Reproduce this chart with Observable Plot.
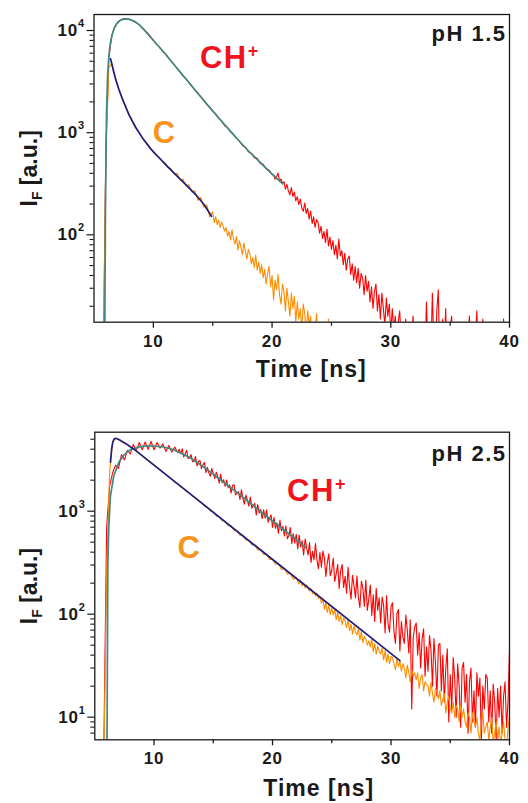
<!DOCTYPE html>
<html><head><meta charset="utf-8">
<script src="https://cdn.jsdelivr.net/npm/d3@7"></script>
<script src="https://cdn.jsdelivr.net/npm/@observablehq/plot@0.6"></script>
<style>
html,body{margin:0;padding:0;background:#fff;}
#chart svg{display:block;}
</style></head><body><div id="chart"></div>
<script>
// TCSPC channels: early part binned at 0.25 ns from 5.5 ns, tails at 0.125 ns
const headStart = 5.5, headStep = 0.25, tailStep = 0.125;

// ---------- pH 1.5 : measured decays ----------
const ch15Head = [2,3,700,5400,8900,10900,12100,12700,13000,12950,
 12800,12450,12000,11500,10900,10150,9500,8750,8050,7350,
 6900,6300,5950,5450,5000,4650,4250,3950,3580,3380,
 3100,2870,2600,2450,2260,2080,1880,1790,1610,1530,
 1380,1310,1170,1120,1020,960,880,830,750,720,
 650,630,570,560,500,490,440,430,390];
const ch15TailStart = 20.125;
const ch15Tail = [388,350,372,402,336,352,318,331,
 280,312,268,246,290,238,262,215,
 236,198,224,183,170,205,162,181,
 142,171,129,150,118,141,132,104,
 121,92,108,84,114,78,95,72,
 88,64,79,58,91,62,70,51,
 66,45,58,62,41,52,36,49,
 34,47,30,42,38,26,40,28,
 35,22,31,19,28,33,18,26,
 15,27,19,13,24,16,21,11,
 19,12,16,9,14,18,10,13,
 8,15,10,7,13,9,16,8,
 11,6,9,14,7,10,5,22,
 8,12,6,27,9,7,18,29,
 6,10,15,7,19,5,8,12,
 16,7,5,9,6,11,4,7,
 5,8,6,10,16,6,5,7,
 9,18,6,8,5,15,7,5,
 6,4,8,5,7,6,9,5,
 14,6,5,15,7,5,6,8];
const c15Head = [2,3,600,4300,4800,3600,2850,2350,2000,1700,
 1480,1300,1150,1020,920,830,760,700,640,600,
 575,525,505,455,440,395,400,345,350,300,
 310,262,270,218,232,186,196,150,168];
const c15TailStart = 15.125;
const c15Tail = [132,151,126,139,118,134,121,109,
 118,97,108,89,112,92,81,96,
 71,88,76,64,83,69,58,72,
 66,52,60,48,63,45,54,42,
 51,38,46,33,42,49,31,40,
 23,36,29,41,26,21,33,28,
 18,30,22,16,27,19,25,14,
 22,15,19,12,21,17,11,18,
 13,16,9,14,11,17,8,12,
 9,13,7,10,6,15,8,7,
 5,9,6,4,7,5,4,5];
// pH 1.5 : fitted curves
const fitCH15T = [5.90,5.97,6.05,6.15,6.25,6.39,6.55,6.7,6.9,7.1,7.4,7.7,8.0,8.4,8.8,9.3,9.8,10.3,10.8,11.3,11.8,12.3,12.8,13.3,13.8,14.3,14.8,15.4,16.0,16.6,17.3,18.0,18.7,19.4,20.1,20.9];
const fitCH15V = [8,200,1500,3800,5600,7700,9300,10500,11600,12300,12850,13000,12850,12300,11400,9900,8500,7300,6300,5350,4550,3870,3300,2800,2380,2030,1740,1440,1200,1000,810,665,555,460,385,315];
const fitC15T = [6.40,6.6,6.82,7.1,7.4,7.94,8.5,9.15,9.8,10.5,11.2,12.0,12.8,13.6,14.3,14.9];
const fitC15V = [5280,4200,3350,2650,2130,1500,1130,865,690,565,465,375,305,245,196,152];

// ---------- pH 2.5 : measured decays ----------
const ch25Head = [2,4,700,1750,2350,2800,2600,3550,3150,3900,
 3600,4450,3850,4650,3950,4700,4000,4750,3950,4650,
 4100,4500,3800,4350,3750,4200,3700];
const ch25TailStart = 12.125;
const ch25Tail = [4000,3610,4030,3360,3620,3900,3240,3320,
 3540,3020,3040,3400,2750,3040,3110,2590,
 2810,2980,2370,2670,2360,2180,2600,2300,
 2070,2390,2180,1870,2290,1890,2020,1740,
 2010,1690,1800,1500,1780,1810,1440,1490,
 1550,1300,1610,1330,1170,1430,1290,1120,
 1370,1070,1130,1190,920,1160,960,1040,
 845,1030,855,1030,780,865,920,695,
 870,680,770,610,815,645,715,575,
 720,540,580,695,485,605,490,595,
 430,585,450,515,375,535,445,375,
 495,318,407,337,486,335,277,397,
 286,410,352,233,318,385,236,267,
 351,208,247,304,178,264,304,182,
 233,160,285,185,140,238,190,144,
 234,144,116,209,179,119,214,109,
 140,192,97,154,85,178,109,144,
 82,147,121,66,151,81,67,119,
 129,68,52,101,111,44,85,60,
 52,98,70,42,88,12,60,75,
 82,40,66,30,58,72,25,48,
 28,62,45,20,58,34,16,50,
 52,18,40,14,30,46,9,26,
 12,38,24,10,33,20,8,30,
 34,14,26,7,22,30,9,18,
 8,27,16,24,6,20,12,26,
 24,9,18,7,21,14,6,19,
 10,20,7,16,22,8,14,45];
const c25Head = [2,3,250,2400,4600,5100,4950,4750,4560,4380,
 4200,4030,3850,3620,3470,3250,3110,2920,2810,2630,
 2530,2360,2280,2130,2050,1910,1850,1720,1660,1545,
 1500,1390,1350,1250,1215,1120,1095,1005,985,900,
 885,810,800,725,720,650,648,585,582,525,
 524,470,472,420,425,380,382,340,344,305,
 310,272,280,245,250,218,226];
const c25TailStart = 22.125;
const c25Tail = [210,196,214,188,201,180,192,176,
 168,178,158,163,150,160,142,148,
 128,140,112,131,104,122,99,116,
 98,112,88,104,85,97,79,92,
 86,74,88,69,80,64,77,67,
 63,72,56,68,53,61,57,50,
 55,48,58,43,52,41,49,44,
 41,47,36,44,34,41,33,39,
 38,33,29,37,31,35,28,33,
 30,24,32,27,22,29,25,27,
 23,27,19,24,26,18,22,21,
 20,16,22,17,14,19,18,15,
 18,13,15,17,11,14,16,12,
 11,14,10,13,12,9,13,10,
 12,9,8,11,10,7,11,9,
 8,10,7,6,9,11,7,8,
 9,6,8,10,5.5,7,9,6,
 8,5.5,7,9,6,5,8,10];
// pH 2.5 : fitted curves
const fitCH25T = [6.03,6.1,6.18,6.32,6.6,7.02,7.44,8.0,8.85,9.69,10.81,11.66,13.06,14.47,15.87,17.27,18.68,20.08,21.49,22.8];
const fitCH25V = [5,300,700,1400,2200,2970,3500,3960,4230,4320,4200,3950,3300,2550,1910,1440,1060,790,590,445];
const fitC25T = [6.32,6.42,6.52,6.62,6.72,6.85,7.1,7.6,8.3,13.9,19.24,30.75];
const fitC25V = [2990,4000,4700,5000,5100,5080,4900,4550,4000,1230,399,35.4];

// ---------- axes ----------
const xMajor = [10,20,30,40];
const xMinor = [15,25,35];
const yMajor15 = [100,1000,10000];
const yMinor15 = [20,30,40,50,60,70,80,90,200,300,400,500,600,700,800,900,2000,3000,4000,5000,6000,7000,8000,9000];
const yMajor25 = [10,100,1000];
const yMinor25 = [7,8,9,20,30,40,50,60,70,80,90,200,300,400,500,600,700,800,900,2000,3000,4000,5000];
const xLabel = "Time [ns]";
const yLabel = "I_F [a.u.]";

const seg = (vals, start, step) => vals.map((v, i) => ({t: start + i * step, v}));
const trace = (head, tail, tailStart) => seg(head, headStart, headStep).concat(seg(tail, tailStart, tailStep));
const pairs = (ts, vs) => ts.map((t, i) => ({t, v: vs[i]}));

const FONT = "Liberation Sans, Arial, Helvetica, sans-serif";
const INK = "#1a1a1a";
const NS = "http://www.w3.org/2000/svg";

function panel(o) {
  const svg = Plot.plot({
    width: 528, height: o.height,
    marginLeft: o.ml, marginRight: o.mr, marginTop: o.mt, marginBottom: o.mb,
    x: {domain: [5, 40]},
    y: {type: "log", domain: o.yDomain},
    style: {fontFamily: FONT, background: "white", color: INK},
    marks: [
      Plot.line(o.ch, {x: "t", y: "v", stroke: "#ff0000", strokeWidth: 1.1, clip: true}),
      Plot.line(o.c, {x: "t", y: "v", stroke: "#ff8c00", strokeWidth: 1.1, clip: true}),
      Plot.line(o.fitCH, {x: "t", y: "v", stroke: "#3c8a83", strokeWidth: 1.7, clip: true}),
      Plot.line(o.fitC, {x: "t", y: "v", stroke: "#1f1f80", strokeWidth: 1.7, clip: true}),
      Plot.frame({stroke: INK, strokeWidth: 1.3}),
      Plot.axisX({ticks: xMajor, tickSize: 6, fill: "none", label: null, stroke: INK, strokeWidth: 1.3}),
      Plot.axisX({ticks: xMinor, tickSize: 4, fill: "none", label: null, stroke: INK, strokeWidth: 1.3}),
      Plot.axisY({ticks: o.yMajor, tickSize: 7, fill: "none", label: null, stroke: INK, strokeWidth: 1.2}),
      Plot.axisY({ticks: o.yMinor, tickSize: 4, fill: "none", label: null, stroke: INK, strokeWidth: 1.1}),
      Plot.text(xMajor, {x: d => d, text: d => String(d), frameAnchor: "bottom", dy: o.tickDy, lineAnchor: "bottom", fontSize: 17, fontWeight: "bold", fill: INK}),
      Plot.text(o.yMajor, {y: d => d, text: () => "10", frameAnchor: "left", dx: -16, textAnchor: "end", lineAnchor: "middle", fontSize: 17, fontWeight: "bold", fill: INK}),
      Plot.text(o.yMajor, {y: d => d, text: d => String(Math.round(Math.log10(d))), frameAnchor: "left", dx: -16, dy: -7, textAnchor: "start", lineAnchor: "middle", fontSize: 11, fontWeight: "bold", fill: INK}),
      Plot.text([xLabel], {text: d => d, frameAnchor: "bottom", dx: o.xlDx, dy: o.xlDy, lineAnchor: "bottom", fontSize: 23, fontWeight: "bold", fill: INK}),
      Plot.text([yLabel], {text: d => d, frameAnchor: "left", rotate: -90, dx: o.ylDx, lineAnchor: "bottom", textAnchor: "middle", fontSize: 23, fontWeight: "bold", fill: INK}),
      Plot.text([o.ph], {text: d => d, frameAnchor: "top-right", dx: -3, dy: o.phDy, textAnchor: "end", lineAnchor: "bottom", fontSize: 22, fontWeight: "bold", fill: INK}),
      Plot.text(["CH+"], {text: d => d, x: o.chPos[0], y: o.chPos[1], textAnchor: "start", lineAnchor: "middle", fontSize: 31, fontWeight: "bold", fill: "#f0141e"}),
      Plot.text(["C"], {text: d => d, x: o.cPos[0], y: o.cPos[1], textAnchor: "start", lineAnchor: "middle", fontSize: 31, fontWeight: "bold", fill: "#f7941d"})
    ]
  });
  const tspan = (txt, attrs) => {
    const t = document.createElementNS(NS, "tspan");
    t.textContent = txt;
    for (const k in attrs) t.setAttribute(k, attrs[k]);
    return t;
  };
  svg.querySelectorAll("text").forEach(el => {
    const s = el.textContent;
    if (s === "CH+") {
      el.textContent = "";
      el.setAttribute("letter-spacing", "1.5");
      el.appendChild(tspan("CH", {}));
      el.appendChild(tspan("+", {"font-size": "18", dy: "-11"}));
    } else if (s === yLabel) {
      el.textContent = "";
      el.appendChild(tspan("I", {}));
      el.appendChild(tspan("F", {"font-size": "14", dy: "5"}));
      el.appendChild(tspan(" [a.u.]", {"font-size": "23", dy: "-5"}));
    } else if (s === o.ph) {
      el.setAttribute("letter-spacing", "1.5");
    } else if (s === xLabel) {
      el.setAttribute("letter-spacing", "1");
    } else if (/^\d0$/.test(s)) {
      el.setAttribute("letter-spacing", "0.8");
    }
  });
  return svg;
}

const root = document.getElementById("chart");
root.appendChild(panel({
  height: 395, ml: 93.5, mr: 19, mt: 14, mb: 73.3,
  yDomain: [13.96, 14340], yMajor: yMajor15, yMinor: yMinor15,
  ch: trace(ch15Head, ch15Tail, ch15TailStart), c: trace(c15Head, c15Tail, c15TailStart),
  fitCH: pairs(fitCH15T, fitCH15V), fitC: pairs(fitC15T, fitC15V),
  tickDy: 25, xlDx: 9.5, xlDy: 54.3, ylDx: -57.5, phDy: 26.7, ph: "pH 1.5",
  chPos: [13.92, 5320], cPos: [9.95, 1000]
}));
root.appendChild(panel({
  height: 408, ml: 94.3, mr: 19, mt: 36.7, mb: 63.7,
  yDomain: [6.03, 5848], yMajor: yMajor25, yMinor: yMinor25,
  ch: trace(ch25Head, ch25Tail, ch25TailStart), c: trace(c25Head, c25Tail, c25TailStart),
  fitCH: pairs(fitCH25T, fitCH25V), fitC: pairs(fitC25T, fitC25V),
  tickDy: 24, xlDx: 16.6, xlDy: 55.7, ylDx: -58.3, phDy: 28.3, ph: "pH 2.5",
  chPos: [21.23, 1570], cPos: [11.97, 440]
}));
</script>
</body></html>
